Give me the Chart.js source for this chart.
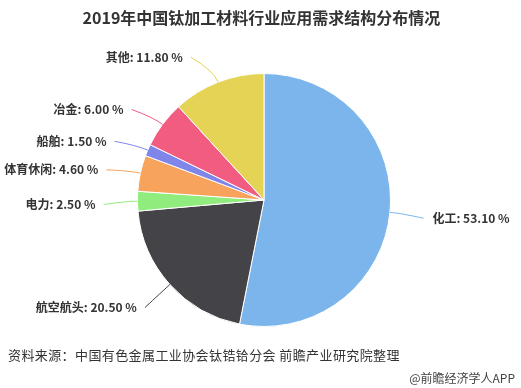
<!doctype html>
<html>
<head>
    <meta charset="utf-8">
    <title>2019年中国钛加工材料行业应用需求结构分布情况</title>
    <style>
        body {
            margin: 0;
            background: #fff;
        }

        .frame {
            height: 388px;
            position: relative;
            width: 521px;
        }

        .frame__chart {
            left: 0;
            position: absolute;
            top: 0;
        }

        .frame__title {
            color: #333;
            font: bold 16px "Noto Sans CJK SC", sans-serif;
            left: 0;
            position: absolute;
            text-align: center;
            top: 5px;
            width: 523px;
        }

        .frame__source {
            color: #333;
            font: 13px "Noto Sans CJK SC", sans-serif;
            left: 8px;
            letter-spacing: 0.4px;
            position: absolute;
            top: 345px;
        }

        .frame__credit {
            color: #444;
            font: 12px "Noto Sans CJK SC", sans-serif;
            position: absolute;
            right: 6px;
            top: 369px;
        }
    </style>
    <script src="https://cdn.jsdelivr.net/npm/chart.js@4/dist/chart.umd.min.js"></script>
</head>
<body>
<div class="frame">
    <canvas class="frame__chart" id="chart" width="521" height="388"></canvas>
    <div class="frame__title">2019年中国钛加工材料行业应用需求结构分布情况</div>
    <div class="frame__source">资料来源：中国有色金属工业协会钛锆铪分会 前瞻产业研究院整理</div>
    <div class="frame__credit">@前瞻经济学人APP</div>
</div>
<script>
    "use strict";

    let categories = ["化工", "航空航头", "电力", "体育休闲", "船舶", "冶金", "其他"];
    let shares = [53.10, 20.50, 2.50, 4.60, 1.50, 6.00, 11.80];
    let colors = ["#7cb5ec", "#434348", "#90ed7d", "#f7a35c", "#8085e9", "#f15c80", "#e4d354"];

    // highcharts-like outside labels with connectors
    let pieLabels = {
        id: "pieLabels",
        afterDatasetsDraw: function (chart) {
            let ctx = chart.ctx;
            let meta = chart.getDatasetMeta(0);
            ctx.save();
            ctx.font = "bold 12px 'Noto Sans CJK SC', sans-serif";
            ctx.textBaseline = "middle";
            meta.data.forEach(function (arc, i) {
                let p = arc.getProps(["x", "y", "startAngle", "endAngle", "outerRadius"], true);
                let mid = (p.startAngle + p.endAngle) / 2;
                let r = p.outerRadius;
                let cos = Math.cos(mid);
                let sin = Math.sin(mid);
                let left = cos < 0;
                let ly = p.y + (r + 30) * sin + 3;
                let dy = ly - p.y;
                let lr = r + 34;
                let ax = p.x + (left ? -1 : 1) * Math.sqrt(Math.max(0, lr * lr - dy * dy));

                ctx.strokeStyle = colors[i];
                ctx.lineWidth = 1;
                ctx.beginPath();
                ctx.moveTo(p.x + r * cos, p.y + r * sin);
                ctx.quadraticCurveTo(p.x + (r + 12) * cos, p.y + (r + 12) * sin, ax, ly);
                ctx.stroke();

                ctx.fillStyle = "#333";
                ctx.textAlign = left ? "right" : "left";
                ctx.fillText(categories[i] + ": " + shares[i].toFixed(2) + " %", ax + (left ? -8 : 9), ly);
            });
            ctx.restore();
        },
    };

    new Chart(document.getElementById("chart"), {
        type: "pie",
        data: {
            labels: categories,
            datasets: [{
                data: shares,
                backgroundColor: colors,
                borderColor: "#fff",
                borderWidth: 1,
                hoverOffset: 0,
            }],
        },
        options: {
            responsive: false,
            animation: false,
            layout: {
                padding: {top: 73, bottom: 61, left: 137, right: 130},
            },
            plugins: {
                legend: {display: false},
                tooltip: {enabled: false},
            },
        },
        plugins: [pieLabels],
    });
</script>
</body>
</html>
